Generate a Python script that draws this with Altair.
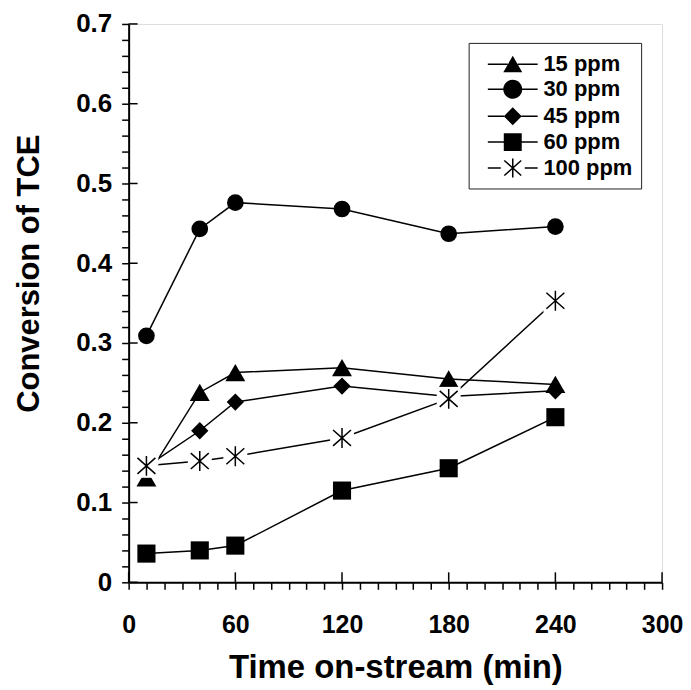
import altair as alt
import pandas as pd

# ---- data ----
time = [10, 40, 60, 120, 180, 240]
series_names = ["15 ppm", "30 ppm", "45 ppm", "60 ppm", "100 ppm"]
ppm15 = [0.131, 0.238, 0.263, 0.269, 0.255, 0.248]
ppm30 = [0.309, 0.443, 0.476, 0.468, 0.437, 0.446]
ppm45 = [0.145, 0.190, 0.226, 0.246, 0.233, 0.240]
ppm60 = [0.036, 0.040, 0.046, 0.115, 0.143, 0.207]
ppm100 = [0.146, 0.152, 0.158, 0.181, 0.230, 0.353]

x_ticks_all = [0, 10, 20, 30, 40, 50, 60, 70, 80, 90, 100, 110, 120, 130, 140, 150,
               160, 170, 180, 190, 200, 210, 220, 230, 240, 250, 260, 270, 280, 290, 300]
x_major = [0, 60, 120, 180, 240, 300]
y_ticks_all = [0.0, 0.02, 0.04, 0.06, 0.08, 0.1, 0.12, 0.14, 0.16, 0.18, 0.2, 0.22, 0.24,
               0.26, 0.28, 0.3, 0.32, 0.34, 0.36, 0.38, 0.4, 0.42, 0.44, 0.46, 0.48, 0.5,
               0.52, 0.54, 0.56, 0.58, 0.6, 0.62, 0.64, 0.66, 0.68, 0.7]
y_major = [0.0, 0.1, 0.2, 0.3, 0.4, 0.5, 0.6, 0.7]

values = [ppm15, ppm30, ppm45, ppm60, ppm100]
rows = []
for name, vals in zip(series_names, values):
    for t, v in zip(time, vals):
        rows.append({"series": name, "time": t, "value": v})
df = pd.DataFrame(rows)

FONT = "Liberation Sans"
W, H = 535, 560

xs = alt.Scale(domain=[0, 300], nice=False, zero=False)
ys = alt.Scale(domain=[0, 0.7], nice=False, zero=False)

x_axis = alt.Axis(
    title="Time on-stream (min)", values=x_ticks_all,
    labelExpr="datum.value % 60 == 0 ? format(datum.value, 'd') : ''",
    grid=False, tickSize=7, tickWidth=1.5, tickColor="black",
    domainColor="black", domainWidth=2,
    labelFont=FONT, labelFontSize=25, labelFontWeight="bold", labelColor="black",
    labelBaseline="alphabetic", labelPadding=43, labelFlush=False, labelOverlap=False,
    titleFont=FONT, titleFontSize=33, titleFontWeight="bold", titleColor="black",
    titleBaseline="alphabetic", titleY=95,
)
y_axis = alt.Axis(
    title="Conversion of TCE", values=y_ticks_all,
    labelExpr="abs(datum.value*10 - round(datum.value*10)) < 0.001 ? format(datum.value, '.1~f') : ''",
    grid=False, tickSize=7, tickWidth=1.5, tickColor="black",
    domainColor="black", domainWidth=2,
    labelFont=FONT, labelFontSize=26, labelFontWeight="bold", labelColor="black",
    labelPadding=10, labelFlush=False, labelOverlap=False,
    titleFont=FONT, titleFontSize=31, titleFontWeight="bold", titleColor="black",
    titleBaseline="alphabetic", titleAlign="center", titleX=-90, titleY=250, titleAngle=270,
)

X = alt.X("time:Q", scale=xs, axis=x_axis)
Y = alt.Y("value:Q", scale=ys, axis=y_axis)

filled_df = df[df.series != "100 ppm"]
df100 = df[df.series == "100 ppm"]

lines = alt.Chart(filled_df).mark_line(color="black", strokeWidth=1.5).encode(
    x=X, y=Y, detail="series:N")

marker_specs = [("15 ppm", "triangle-up", 400), ("30 ppm", "circle", 280),
                ("45 ppm", "diamond", 300), ("60 ppm", "square", 330)]
markers = [
    alt.Chart(df[df.series == s]).mark_point(
        shape=shp, filled=True, color="black", size=sz, opacity=1).encode(x=X, y=Y)
    for s, shp, sz in marker_specs
]

ASTER = "M-0.9,-0.8L0.9,0.8M-0.9,0.8L0.9,-0.8M0,-1L0,1"
line100 = alt.Chart(df100).mark_line(color="black", strokeWidth=1.5).encode(x=X, y=Y)
box100 = alt.Chart(df100).mark_point(
    shape="square", filled=True, color="white", size=576, opacity=1).encode(x=X, y=Y)
aster100 = alt.Chart(df100).mark_point(
    shape=ASTER, filled=False, color="black", size=400, strokeWidth=1.5, opacity=1).encode(x=X, y=Y)

ymaj_df = pd.DataFrame({"value": y_major})
xmaj_df = pd.DataFrame({"time": x_major})
ytick = alt.Chart(ymaj_df).mark_rule(color="black", strokeWidth=1.5).encode(
    y=Y, x=alt.value(0), x2=alt.value(9))
xtick = alt.Chart(xmaj_df).mark_rule(color="black", strokeWidth=1.5).encode(
    x=X, y=alt.value(H - 10), y2=alt.value(H))

# legend glyphs (fill-only): line pieces + marker, units of sqrt(symbolSize)/2 = 12.5 px
def bars(a, b, c, d):
    return (f"M{a},-0.06L{b},-0.06L{b},0.06L{a},0.06Z"
            f"M{c},-0.06L{d},-0.06L{d},0.06L{c},0.06Z")

leg_paths = [
    bars(-0.18, 1.42, 2.22, 3.82) + "M1.82,-0.68L2.58,0.64L1.06,0.64Z",
    bars(-0.18, 1.1, 2.54, 3.82) + "M1.06,0A0.76,0.76 0 1,1 2.58,0A0.76,0.76 0 1,1 1.06,0Z",
    bars(-0.18, 1.12, 2.52, 3.82) + "M1.82,-0.72L2.54,0L1.82,0.72L1.1,0Z",
    bars(-0.18, 1.12, 2.52, 3.82) + "M1.1,-0.72L2.54,-0.72L2.54,0.72L1.1,0.72Z",
    bars(-0.18, 0.86, 2.78, 3.82)
    + "M1.76,-0.76L1.88,-0.76L1.88,0.76L1.76,0.76Z"
    + "M1.18,-0.645L2.54,0.555L2.46,0.645L1.1,-0.555Z"
    + "M1.1,0.555L2.46,-0.645L2.54,-0.555L1.18,0.645Z",
]
legend_layer = alt.Chart(df).mark_point(
    filled=True, color="black", opacity=0).encode(
    x=X, y=Y,
    shape=alt.Shape("series:N", scale=alt.Scale(domain=series_names, range=leg_paths),
                    legend=alt.Legend(
                        title=None, orient="none", legendX=341, legendY=19,
                        direction="vertical", symbolSize=625,
                        symbolFillColor="black", symbolOpacity=1,
                        labelFont=FONT, labelFontSize=22, labelFontWeight="bold",
                        labelColor="black", labelOffset=40, padding=8, rowPadding=-2,
                        strokeColor="#222", fillColor="white")),
)

chart = alt.layer(
    lines, *markers, line100, box100, aster100, ytick, xtick, legend_layer
).properties(
    width=W, height=H,
    autosize=alt.AutoSizeParams(type="none"),
    padding={"left": 121, "top": 15, "right": 21, "bottom": 104},
).configure_view(stroke="black", strokeWidth=1.5).configure(background="white")

chart.save("out.html", embed_options={"renderer": "svg", "actions": False})
